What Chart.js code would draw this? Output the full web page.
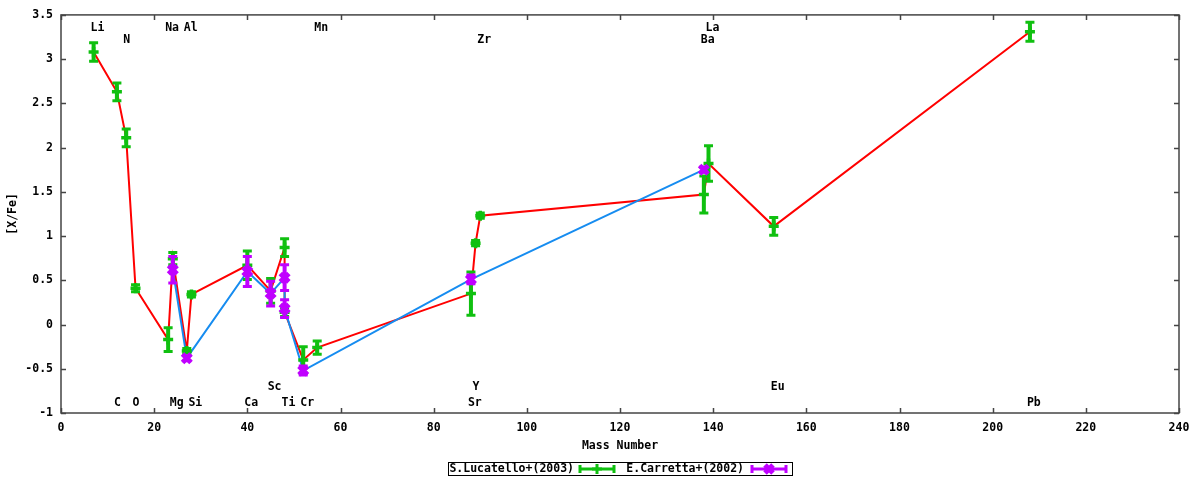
<!DOCTYPE html>
<html>
<head>
<meta charset="utf-8">
<script src="https://cdn.jsdelivr.net/npm/chart.js@4.4.1/dist/chart.umd.min.js"></script>
<style>
  html, body { margin: 0; padding: 0; background: #fff; }
</style>
</head>
<body>
<canvas id="abundChart" width="1200" height="480"></canvas>
<script>
// S.Lucatello+(2003)
const lucMass = [7, 12, 14, 16, 23, 24, 27, 28, 40, 45, 48, 48, 52, 55, 88, 89, 90, 138, 139, 153, 208];
const lucVal  = [3.08, 2.63, 2.11, 0.41, -0.17, 0.745, -0.30, 0.34, 0.67, 0.38, 0.87, 0.14, -0.40, -0.26, 0.35, 0.92, 1.23, 1.47, 1.82, 1.11, 3.31];
const lucErr  = [0.105, 0.10, 0.10, 0.04, 0.135, 0.07, 0.03, 0.03, 0.16, 0.14, 0.10, 0.05, 0.15, 0.075, 0.245, 0.03, 0.03, 0.21, 0.20, 0.10, 0.107];

// E.Carretta+(2002)
const carMass = [24, 27, 40, 45, 48, 48, 52, 88, 138];
const carVal  = [0.62, -0.38, 0.60, 0.35, 0.53, 0.18, -0.52, 0.51, 1.75];
const carErr  = [0.15, 0.03, 0.17, 0.14, 0.145, 0.10, 0.05, 0.05, 0.03];

// element names on the plot
const elemNames = ['Li', 'C', 'N', 'O', 'Na', 'Mg', 'Al', 'Si', 'Ca', 'Sc', 'Ti', 'Cr', 'Mn', 'Sr', 'Y', 'Zr', 'Ba', 'La', 'Eu', 'Pb'];
const elemMass  = [7, 12, 14, 16, 23, 24, 27, 28, 40, 45, 48, 52, 55, 88, 89, 90, 138, 139, 153, 208];
const namesTop1 = ['Li', 'Na', 'Al', 'Mn', 'La'];
const namesTop2 = ['N', 'Zr', 'Ba'];
const namesLow1 = ['Sc', 'Y', 'Eu'];

const xTickStep = 20, yTickStep = 0.5;
const seriesNames = ['S.Lucatello+(2003)', 'E.Carretta+(2002)'];

const GREEN = '#10c010', PURPLE = '#c000ff', RED = '#ff0000', BLUE = '#168cf0';
const FONT = "bold 11.5px 'DejaVu Sans Mono', monospace";

function pts(m, v) {
  return m.map((x, i) => ({ x: x, y: v[i] }));
}

// error bars, drawn right after their own dataset
const errorBars = {
  id: 'errorBars',
  afterDatasetDraw(chart, args) {
    let err, col, vals, masses;
    if (args.index === 2) { err = lucErr; vals = lucVal; masses = lucMass; col = GREEN; }
    else if (args.index === 3) { err = carErr; vals = carVal; masses = carMass; col = PURPLE; }
    else return;
    const { ctx, scales: { x, y } } = chart;
    ctx.save();
    ctx.strokeStyle = col;
    masses.forEach((m, i) => {
      const px = x.getPixelForValue(m);
      const y1 = y.getPixelForValue(vals[i] - err[i]);
      const y2 = y.getPixelForValue(vals[i] + err[i]);
      ctx.lineWidth = 4;
      ctx.beginPath();
      ctx.moveTo(px, y1); ctx.lineTo(px, y2);
      ctx.stroke();
      ctx.lineWidth = 3;
      ctx.beginPath();
      ctx.moveTo(px - 4.5, y1); ctx.lineTo(px + 4.5, y1);
      ctx.moveTo(px - 4.5, y2); ctx.lineTo(px + 4.5, y2);
      ctx.stroke();
    });
    ctx.restore();
  }
};

// frame, mirrored ticks, element names, legend
const decorations = {
  id: 'decorations',
  afterDraw(chart) {
    const { ctx, chartArea: { left, right, top, bottom }, scales: { x, y } } = chart;
    ctx.save();
    ctx.strokeStyle = '#444';
    ctx.lineWidth = 1.5;
    ctx.strokeRect(left, top, right - left, bottom - top);
    ctx.beginPath();
    x.ticks.forEach(t => {
      const px = Math.round(x.getPixelForValue(t.value)) + 0.5;
      ctx.moveTo(px, bottom); ctx.lineTo(px, bottom - 5);
      ctx.moveTo(px, top); ctx.lineTo(px, top + 5);
    });
    y.ticks.forEach(t => {
      const py = Math.round(y.getPixelForValue(t.value)) + 0.5;
      ctx.moveTo(left, py); ctx.lineTo(left + 5, py);
      ctx.moveTo(right, py); ctx.lineTo(right - 5, py);
    });
    ctx.stroke();

    // element names
    ctx.font = FONT;
    ctx.fillStyle = '#000';
    ctx.textAlign = 'left';
    ctx.textBaseline = 'middle';
    elemNames.forEach((n, i) => {
      let ty = bottom - 10;
      if (namesTop1.includes(n)) ty = top + 13;
      else if (namesTop2.includes(n)) ty = top + 25;
      else if (namesLow1.includes(n)) ty = bottom - 26;
      ctx.fillText(n, x.getPixelForValue(elemMass[i]) - 3, ty);
    });

    // legend
    const cx = (left + right) / 2;
    const ly = 469;
    ctx.strokeStyle = '#000';
    ctx.lineWidth = 1;
    ctx.strokeRect(Math.round(cx - 172) + 0.5, 462.5, 344, 13);
    ctx.textAlign = 'right';
    ctx.fillText(seriesNames[0], cx - 46, ly);
    ctx.fillText(seriesNames[1], cx + 124, ly);
    const sample = (sx, col, cross) => {
      ctx.strokeStyle = col;
      ctx.lineWidth = 3;
      ctx.beginPath();
      ctx.moveTo(sx, ly); ctx.lineTo(sx + 34, ly);
      ctx.moveTo(sx, ly - 4); ctx.lineTo(sx, ly + 4);
      ctx.moveTo(sx + 34, ly - 4); ctx.lineTo(sx + 34, ly + 4);
      ctx.stroke();
      const mx = sx + 17;
      ctx.beginPath();
      if (cross) {
        ctx.moveTo(mx - 5, ly); ctx.lineTo(mx + 5, ly);
        ctx.moveTo(mx, ly - 5); ctx.lineTo(mx, ly + 5);
      } else {
        ctx.lineWidth = 5;
        ctx.moveTo(mx - 4, ly - 4); ctx.lineTo(mx + 4, ly + 4);
        ctx.moveTo(mx - 4, ly + 4); ctx.lineTo(mx + 4, ly - 4);
      }
      ctx.stroke();
    };
    sample(cx - 40, GREEN, true);
    sample(cx + 132, PURPLE, false);
    ctx.restore();
  }
};

Chart.defaults.font.family = "'DejaVu Sans Mono', monospace";
Chart.defaults.font.size = 11.5;
Chart.defaults.font.weight = 'bold';
Chart.defaults.color = '#000';

const config = {
  type: 'scatter',
  data: {
    datasets: [
      { data: pts(lucMass, lucVal), showLine: true, borderColor: RED, borderWidth: 2, pointRadius: 0, order: 4 },
      { data: pts(carMass, carVal), showLine: true, borderColor: BLUE, borderWidth: 2, pointRadius: 0, order: 3 },
      { data: pts(lucMass, lucVal), showLine: false, pointStyle: 'cross', pointRadius: 5, borderColor: GREEN, borderWidth: 3.5, order: 2 },
      { data: pts(carMass, carVal), showLine: false, pointStyle: 'crossRot', pointRadius: 6, borderColor: PURPLE, borderWidth: 5, order: 1 }
    ]
  },
  options: {
    responsive: false,
    animation: false,
    devicePixelRatio: 1,
    layout: { padding: { left: 0, right: 21, top: 13, bottom: 0 } },
    plugins: { legend: { display: false }, tooltip: { enabled: false } },
    scales: {
      x: {
        type: 'linear', min: 0, max: 240,
        ticks: { stepSize: xTickStep, padding: 8 },
        grid: { display: false, drawTicks: false },
        border: { display: false },
        title: { display: true, text: 'Mass Number', padding: { top: 0, bottom: 27 } },
        afterFit(s) { s.height = 67; }
      },
      y: {
        type: 'linear', min: -1, max: 3.5,
        ticks: { stepSize: yTickStep, padding: 8, callback: v => String(v) },
        grid: { display: false, drawTicks: false },
        border: { display: false },
        title: { display: true, text: '[X/Fe]', padding: { top: 6, bottom: 0 } },
        afterFit(s) { s.width = 61; }
      }
    }
  },
  plugins: [errorBars, decorations]
};

const abundChart = new Chart(document.getElementById('abundChart'), config);
</script>
</body>
</html>
